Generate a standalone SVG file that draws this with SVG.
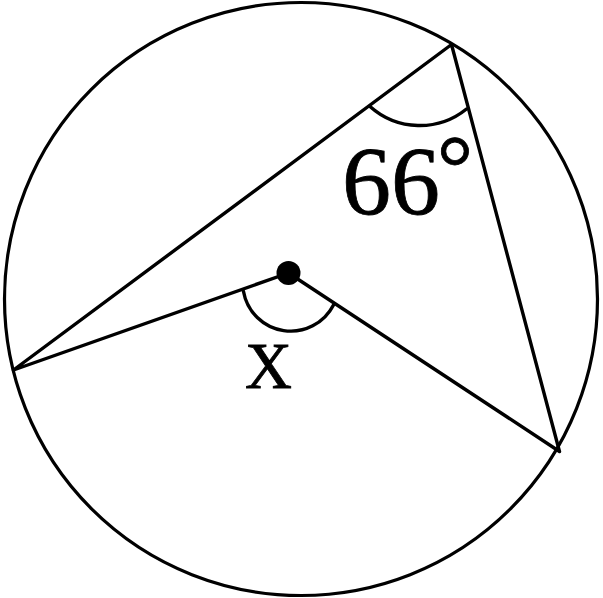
<svg xmlns="http://www.w3.org/2000/svg" width="603" height="598" viewBox="0 0 603 598">
<style>
.ln{fill:none;stroke:#000;stroke-width:3.4;stroke-linecap:round;stroke-linejoin:round}
.lbl{fill:#000;stroke:#000;stroke-width:0.8}
</style>
<rect width="603" height="598" fill="#fff"/>
<g id="circle"><circle cx="301" cy="299" r="296.5" class="ln" style="stroke-width:3.2"/></g>
<g id="connectors">
<polyline class="ln" points="13.5,370 451.5,44.5 559.5,451.5 288.5,273 13.5,370"/>
<path class="ln" d="M243.5,291.5 A48,48 0 0 0 333.5,305"/>
<path class="ln" d="M370,106.5 A74.5,74.5 0 0 0 466.5,109"/>
</g>
<g id="center"><circle cx="288.5" cy="273" r="12" fill="#000"/></g>
<g id="label-66" font-family="'Liberation Serif', serif"><text class="lbl" x="342" y="214" font-size="98">66</text><text class="lbl" x="437" y="198" font-size="90">°</text></g>
<g id="label-x" font-family="'Liberation Serif', serif"><text class="lbl" x="245" y="388" font-size="65" textLength="50">X</text></g>
</svg>
